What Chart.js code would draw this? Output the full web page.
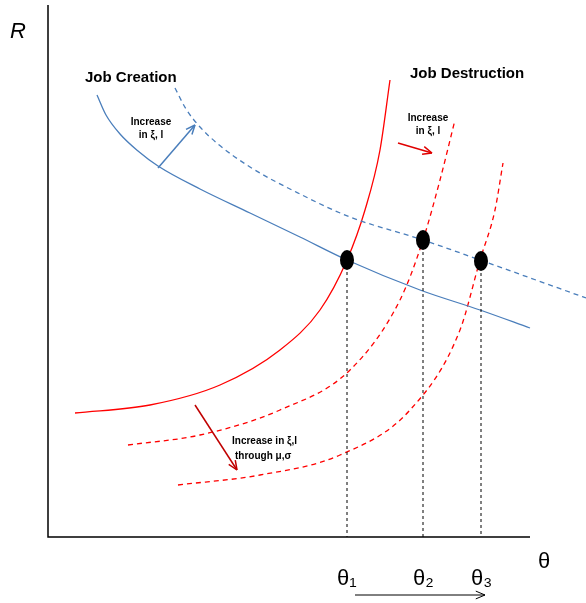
<!DOCTYPE html>
<html><head><meta charset="utf-8">
<script src="https://cdn.jsdelivr.net/npm/chart.js@4/dist/chart.umd.min.js"></script>
<style>html,body{margin:0;background:#fff}#wrap{width:586px;height:603px}</style>
</head><body><div id="wrap"><canvas id="c"></canvas></div>
<script>
// curve points in (theta, R) units, origin at axis corner
var jobCreation = [[49,442],[58,422],[72,403],[90,386],[110,371],[152,348],[202,324],[252,300],[299,277],[372,247],[432,227],[482,209]];
var jobCreation2 = [[127,449],[138,428],[152,410],[170,393],[202,370],[252,343],[302,320],[375,297],[432,277],[538,239]];
var jobDestr = [[27,124],[102,132],[172,152],[232,187],[272,227],[299,277],[317,327],[332,387],[342,457]];
var jobDestr2 = [[80,92],[152,102],[232,127],[302,167],[352,237],[375,297],[392,357],[407,417]];
var jobDestr3 = [[130,52],[212,62],[292,82],[362,127],[412,207],[432,277],[447,327],[455,374]];
var equilibria = [[299,277],[375,297],[433,276]];
var thetaLabels = ['θ₁','θ₂','θ₃'];

function pts(a){ return a.map(function(p){ return {x:p[0], y:p[1]}; }); }

var overlay = {
  id: 'overlay',
  afterDatasetsDraw: function(chart){
    var c = chart.ctx, sx = chart.scales.x, sy = chart.scales.y;
    function X(v){ return sx.getPixelForValue(v); }
    function Y(v){ return sy.getPixelForValue(v); }
    function arrow(x1,y1,x2,y2,col,w){
      c.save(); c.strokeStyle=col; c.fillStyle=col; c.lineWidth=w||1.5;
      c.beginPath(); c.moveTo(X(x1),Y(y1)); c.lineTo(X(x2),Y(y2)); c.stroke();
      var a = Math.atan2(Y(y2)-Y(y1), X(x2)-X(x1)), L=10;
      c.beginPath(); c.moveTo(X(x2),Y(y2));
      c.lineTo(X(x2)-L*Math.cos(a-0.4), Y(y2)-L*Math.sin(a-0.4));
      c.moveTo(X(x2),Y(y2));
      c.lineTo(X(x2)-L*Math.cos(a+0.4), Y(y2)-L*Math.sin(a+0.4));
      c.stroke(); c.restore();
    }
    c.save();
    // axes
    c.strokeStyle='#000'; c.lineWidth=1.5;
    c.beginPath(); c.moveTo(X(0),Y(532)); c.lineTo(X(0),Y(0)); c.lineTo(X(482),Y(0)); c.stroke();
    // drop lines
    c.setLineDash([3,3]); c.lineWidth=1;
    equilibria.forEach(function(p){ c.beginPath(); c.moveTo(X(p[0]),Y(p[1])); c.lineTo(X(p[0]),Y(0)); c.stroke(); });
    c.setLineDash([]);
    c.fillStyle='#000';
    equilibria.forEach(function(p){ c.beginPath(); c.ellipse(X(p[0]),Y(p[1]),7,10,0,0,Math.PI*2); c.fill(); });
    // labels
    c.font='italic 22px "Liberation Sans"'; c.fillText('R', 10, 38);
    c.font='22px "Liberation Sans"'; c.fillText('θ', 538, 568);
    thetaLabels.forEach(function(t,i){ c.fillText(t, X(equilibria[i][0])-10, 585); });
    c.font='bold 15px "Liberation Sans"';
    c.fillText('Job Creation', 85, 82);
    c.fillText('Job Destruction', 410, 78);
    c.font='bold 10px "Liberation Sans"'; c.textAlign='center';
    c.fillText('Increase', 151, 125); c.fillText('in ξ, l', 151, 138);
    c.fillText('Increase', 428, 121); c.fillText('in ξ, l', 428, 134);
    c.textAlign='left';
    c.fillText('Increase in ξ,l', 232, 444);
    c.fillText('through μ,σ', 235, 459);
    c.restore();
    arrow(110,369,147,412,'#4a7ebb',1.5);
    arrow(350,394,384,384,'#e00000',1.5);
    arrow(147,132,189,67,'#c00000',1.5);
    arrow(307,-58,437,-58,'#000',1);
  }
};

var ds = function(d,col,dash){ return {data:pts(d), borderColor:col, borderWidth:1.3, borderDash:dash||[], showLine:true, pointRadius:0, cubicInterpolationMode:'monotone', fill:false}; };

new Chart(document.getElementById('c'), {
  type:'scatter',
  data:{ datasets:[
    ds(jobCreation,'#4a7ebb'), ds(jobCreation2,'#4a7ebb',[5,4]),
    ds(jobDestr,'#ff0000'), ds(jobDestr2,'#ff0000',[5,4]), ds(jobDestr3,'#ff0000',[5,4])
  ]},
  options:{
    animation:false, responsive:true, maintainAspectRatio:false,
    layout:{padding:0},
    plugins:{legend:{display:false}, tooltip:{enabled:false}},
    scales:{
      x:{type:'linear', display:false, min:-48, max:538},
      y:{type:'linear', display:false, min:-66, max:537}
    }
  },
  plugins:[overlay]
});
</script></body></html>
